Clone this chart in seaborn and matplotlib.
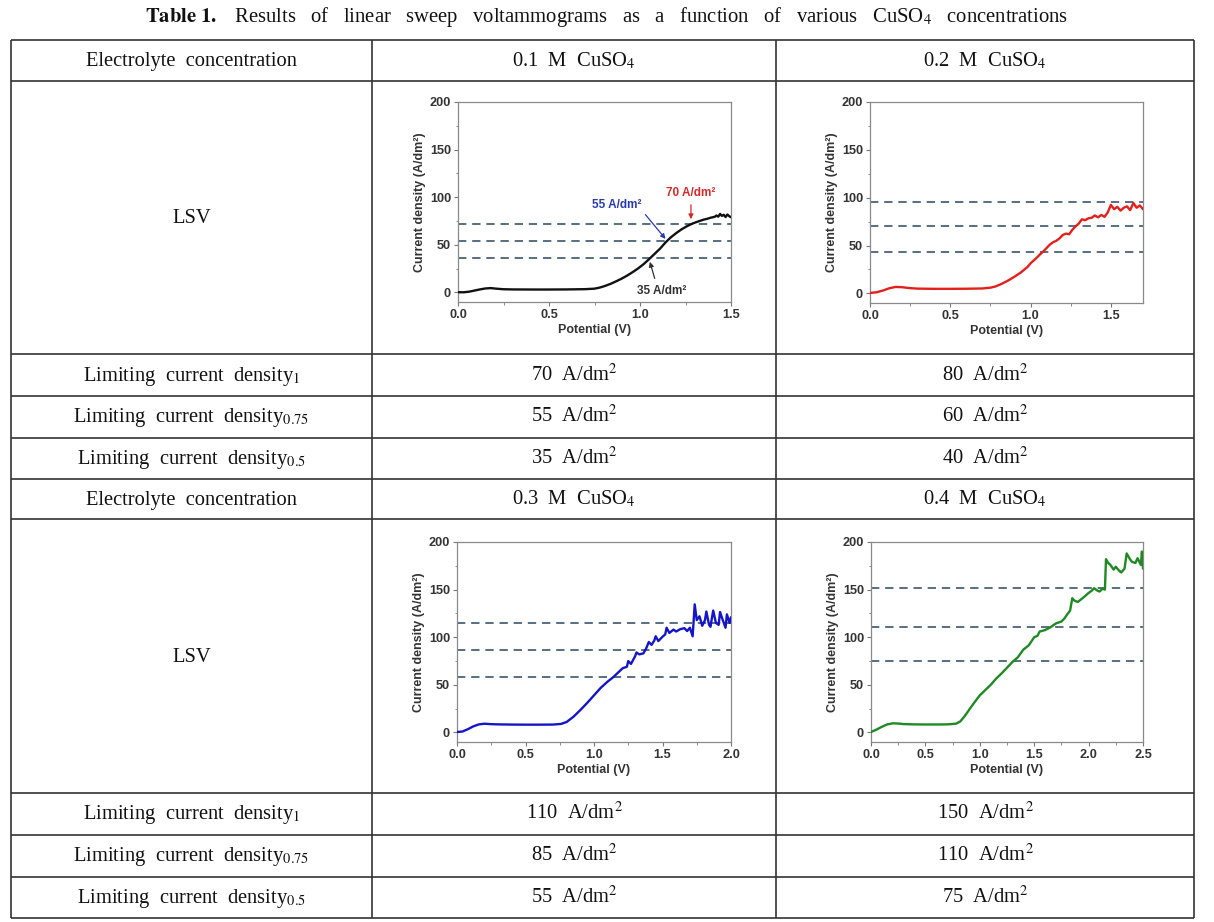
import numpy as np
import pandas as pd
import matplotlib
matplotlib.use("Agg")
import matplotlib.pyplot as plt
import seaborn as sns
from matplotlib.ticker import MultipleLocator

# --- LSV curves (potential in V, current density in A/dm2) ---
pot_01 = [0.00, 0.03, 0.06, 0.09, 0.12, 0.15, 0.18, 0.21, 0.25, 0.30, 0.40, 0.50, 0.60, 0.70,
          0.75, 0.78, 0.81, 0.84, 0.87, 0.90, 0.93, 0.96, 0.99, 1.02, 1.05, 1.08, 1.11, 1.14,
          1.17, 1.20, 1.23, 1.26, 1.29, 1.32, 1.35, 1.37, 1.39, 1.41, 1.42, 1.43, 1.44, 1.45,
          1.46, 1.47, 1.48, 1.49, 1.50]
cur_01 = [0.3, 0.2, 0.8, 2.0, 3.2, 4.2, 4.6, 4.0, 3.4, 3.2, 3.1, 3.1, 3.2, 3.5,
          4.0, 5.2, 7.0, 9.2, 11.8, 14.6, 17.8, 21.4, 25.3, 29.8, 35.0, 40.5, 46.0, 52.5,
          58.0, 62.5, 66.5, 69.8, 72.5, 74.6, 76.5, 77.4, 78.6, 79.4, 80.8, 79.6, 82.5, 80.4,
          81.6, 79.2, 81.9, 80.1, 79.0]

pot_02 = [0.00, 0.04, 0.08, 0.12, 0.16, 0.20, 0.25, 0.30, 0.40, 0.50, 0.60, 0.70, 0.75, 0.78,
          0.82, 0.86, 0.90, 0.94, 0.98, 1.00, 1.03, 1.06, 1.08, 1.10, 1.12, 1.14, 1.16, 1.18,
          1.20, 1.22, 1.24, 1.26, 1.28, 1.30, 1.32, 1.34, 1.36, 1.38, 1.40, 1.42, 1.44, 1.46,
          1.48, 1.50, 1.52, 1.54, 1.56, 1.58, 1.60, 1.62, 1.64, 1.66, 1.68, 1.70]
cur_02 = [0.5, 1.2, 3.0, 5.4, 6.8, 6.5, 5.5, 5.0, 4.8, 4.8, 4.9, 5.2, 6.0, 7.2,
          10.0, 13.5, 17.5, 22.0, 27.5, 31.5, 36.0, 41.0, 44.0, 47.5, 51.0, 53.5, 55.0, 57.5,
          61.0, 62.5, 61.8, 66.5, 70.0, 73.0, 77.5, 76.5, 78.5, 79.0, 81.5, 79.5, 82.0, 80.0,
          84.5, 92.5, 88.0, 90.5, 86.5, 89.5, 91.0, 87.0, 94.5, 89.5, 92.0, 88.0]

pot_03 = [0.00, 0.04, 0.08, 0.12, 0.16, 0.20, 0.24, 0.30, 0.40, 0.50, 0.60, 0.70, 0.76, 0.80,
          0.85, 0.90, 0.95, 1.00, 1.05, 1.10, 1.14, 1.18, 1.21, 1.24, 1.25, 1.27, 1.30, 1.31,
          1.33, 1.36, 1.38, 1.40, 1.42, 1.44, 1.45, 1.47, 1.50, 1.52, 1.53, 1.55, 1.58, 1.60,
          1.63, 1.66, 1.68, 1.70, 1.72, 1.735, 1.75, 1.77, 1.79, 1.81, 1.82, 1.84, 1.85, 1.87,
          1.89, 1.91, 1.92, 1.94, 1.96, 1.97, 1.99, 2.00]
cur_03 = [0.5, 1.0, 3.5, 6.5, 8.5, 9.2, 8.8, 8.5, 8.3, 8.2, 8.2, 8.3, 9.0, 11.0,
          16.5, 23.5, 31.0, 39.0, 47.0, 53.5, 58.0, 63.5, 67.5, 69.0, 75.0, 72.0, 80.0, 84.0,
          82.0, 83.0, 88.0, 95.0, 92.0, 96.5, 101.0, 96.0, 100.5, 103.0, 110.0, 104.5, 108.0, 106.0,
          108.5, 109.5, 106.5, 110.0, 101.0, 134.5, 118.0, 122.0, 112.0, 118.0, 127.0, 113.0, 111.0, 128.0,
          115.0, 113.0, 126.5, 118.0, 110.0, 124.0, 115.0, 121.0]

pot_04 = [0.00, 0.05, 0.10, 0.15, 0.20, 0.25, 0.30, 0.40, 0.50, 0.60, 0.70, 0.78, 0.82, 0.86,
          0.90, 0.95, 1.00, 1.05, 1.10, 1.15, 1.20, 1.25, 1.30, 1.35, 1.40, 1.45, 1.50, 1.53,
          1.55, 1.60, 1.65, 1.70, 1.75, 1.78, 1.80, 1.83, 1.85, 1.87, 1.90, 1.95, 2.00, 2.03,
          2.05, 2.08, 2.10, 2.13, 2.15, 2.16, 2.18, 2.20, 2.23, 2.25, 2.28, 2.30, 2.33, 2.35,
          2.38, 2.40, 2.43, 2.45, 2.48, 2.49, 2.50]
cur_04 = [0.5, 3.0, 6.0, 8.5, 9.6, 9.4, 8.8, 8.5, 8.4, 8.4, 8.5, 9.2, 11.5, 17.0,
          23.5, 31.5, 39.0, 44.5, 50.0, 56.5, 62.0, 68.0, 74.0, 79.0, 87.0, 91.5, 100.0, 101.5,
          106.0, 107.5, 110.5, 114.5, 116.5, 120.0, 123.5, 128.0, 141.0, 138.5, 137.0, 141.5, 146.5, 149.0,
          151.5, 149.0, 148.0, 151.0, 150.0, 182.0, 178.0, 176.0, 171.0, 174.0, 170.0, 168.0, 172.0, 188.0,
          182.0, 179.0, 178.0, 183.0, 176.0, 190.0, 172.0]

# dashed guide levels drawn in each panel
guides_01 = [72, 54, 36]
guides_02 = [95, 70, 43]
guides_03 = [115, 87, 58]
guides_04 = [152, 111, 75]

# table contents
concentrations = ['0.1', '0.2', '0.3', '0.4']
lcd_1 = [70, 80, 110, 150]
lcd_075 = [55, 60, 85, 110]
lcd_05 = [35, 40, 55, 75]
row_labels = ['Limiting  current  density$_1$',
              'Limiting  current  density$_{0.75}$',
              'Limiting  current  density$_{0.5}$']

xmax = [1.5, 1.7, 2.0, 2.5]
xtick_sets = [[0.0, 0.5, 1.0, 1.5], [0.0, 0.5, 1.0, 1.5],
              [0.0, 0.5, 1.0, 1.5, 2.0], [0.0, 0.5, 1.0, 1.5, 2.0, 2.5]]
yticks = [0, 50, 100, 150, 200]
line_colors = ['#111111', '#e3201b', '#1515c8', '#1f8a24']

sns.set_style("ticks")
plt.rcParams['font.family'] = ['Liberation Serif', 'DejaVu Serif']
plt.rcParams['mathtext.fontset'] = 'stix'

W, H = 1214, 922
fig = plt.figure(figsize=(W / 100, H / 100), dpi=100)

# background axes in pixel coordinates for the table
bg = fig.add_axes([0, 0, 1, 1])
bg.set_xlim(0, W)
bg.set_ylim(H, 0)
bg.axis('off')

left, right = 11, 1194
col1, col2 = 372, 776
rows = [40, 81, 354, 396, 437.5, 479, 519, 793, 834.5, 876.5, 917.5]
for y in rows:
    bg.plot([left, right], [y, y], color='#222222', lw=1.1, solid_capstyle='butt')
for x in [left, col1, col2, right]:
    bg.plot([x, x], [rows[0], rows[-1]], color='#333333', lw=1.2, solid_capstyle='butt')

bg.text(607, 22, r'$\mathbf{Table\ 1.}$   Results   of   linear   sweep   voltammograms   as   a   function   of'
        r'   various   CuSO$_4$   concentrations', ha='center', va='baseline', fontsize=14.9, color='#111')

c0 = (left + col1) / 2
cc = [(col1 + col2) / 2, (col2 + right) / 2]
fs = 14.8


def cell(x, top, bottom, s):
    bg.text(x, (top + bottom) / 2 + 5.5, s, ha='center', va='baseline', fontsize=fs, color='#111')


for block, r0 in enumerate([0, 5]):
    cell(c0, rows[r0], rows[r0 + 1], 'Electrolyte  concentration')
    cell(c0, rows[r0 + 1], rows[r0 + 2], 'LSV')
    for k, lab in enumerate(row_labels):
        cell(c0, rows[r0 + 2 + k], rows[r0 + 3 + k], lab)
    for j in range(2):
        i = block * 2 + j
        cell(cc[j], rows[r0], rows[r0 + 1], f'{concentrations[i]}  M  CuSO$_4$')
        vals = [lcd_1[i], lcd_075[i], lcd_05[i]]
        for k, v in enumerate(vals):
            cell(cc[j], rows[r0 + 2 + k], rows[r0 + 3 + k], f'{v}  A/dm$^2$')

# LSV panels
boxes = [(458, 102, 731, 302), (870, 102, 1143, 303), (457, 542, 731, 742), (871, 542, 1143, 742)]
curves = [(pot_01, cur_01), (pot_02, cur_02), (pot_03, cur_03), (pot_04, cur_04)]
guides = [guides_01, guides_02, guides_03, guides_04]
sans = ['Liberation Sans', 'DejaVu Sans']

axes = []
for i, (l, t, r, b) in enumerate(boxes):
    ax = fig.add_axes([l / W, 1 - b / H, (r - l) / W, (b - t) / H])
    df = pd.DataFrame({'Potential': curves[i][0], 'Current': curves[i][1]})
    for g in guides[i]:
        ax.axhline(g, color='#3b566e', lw=1.2, ls=(0, (5, 3.5)), zorder=1)
    sns.lineplot(data=df, x='Potential', y='Current', ax=ax, color=line_colors[i], linewidth=1.7, zorder=3)
    ax.set_xlim(0, xmax[i])
    ax.set_ylim(-10, 200)
    ax.set_xticks(xtick_sets[i])
    ax.set_xticklabels([f'{v:.1f}' for v in xtick_sets[i]], fontfamily=sans, fontweight='bold',
                       fontsize=9.2, color='#333333')
    ax.set_yticks(yticks)
    ax.set_yticklabels([str(v) for v in yticks], fontfamily=sans, fontweight='bold',
                       fontsize=9.2, color='#333333')
    ax.xaxis.set_minor_locator(MultipleLocator(0.25))
    ax.yaxis.set_minor_locator(MultipleLocator(25))
    ax.tick_params(which='major', direction='out', length=3, width=0.8, color='#777777', pad=2)
    ax.tick_params(which='minor', direction='out', length=1.8, width=0.6, color='#777777')
    for sp in ax.spines.values():
        sp.set_visible(True)
        sp.set_color('#8a8a8a')
        sp.set_linewidth(0.9)
    ax.set_xlabel('Potential (V)', fontfamily=sans, fontweight='bold', fontsize=9, color='#333333', labelpad=2)
    ax.set_ylabel('Current density (A/dm²)', fontfamily=sans, fontweight='bold', fontsize=9,
                  color='#333333', labelpad=3)
    axes.append(ax)

# annotations of the 0.1 M panel
ax = axes[0]
ann = dict(fontfamily=sans, fontweight='bold', fontsize=8.5, ha='center', va='center')
ax.text(1.28, 104, '70 A/dm²', color='#d42a2a', **ann)
ax.annotate('', xy=(1.28, 74), xytext=(1.28, 95),
            arrowprops=dict(arrowstyle='-|>', color='#d42a2a', lw=0.9, mutation_scale=7))
ax.text(0.87, 92, '55 A/dm²', color='#2a3bb0', **ann)
ax.annotate('', xy=(1.15, 54), xytext=(1.02, 84),
            arrowprops=dict(arrowstyle='-|>', color='#2a3bb0', lw=0.9, mutation_scale=7))
ax.text(1.12, 2, '35 A/dm²', color='#333333', **ann)
ax.annotate('', xy=(1.05, 35), xytext=(1.085, 12),
            arrowprops=dict(arrowstyle='-|>', color='#333333', lw=0.9, mutation_scale=7))

fig.savefig('out.png', dpi=100)
